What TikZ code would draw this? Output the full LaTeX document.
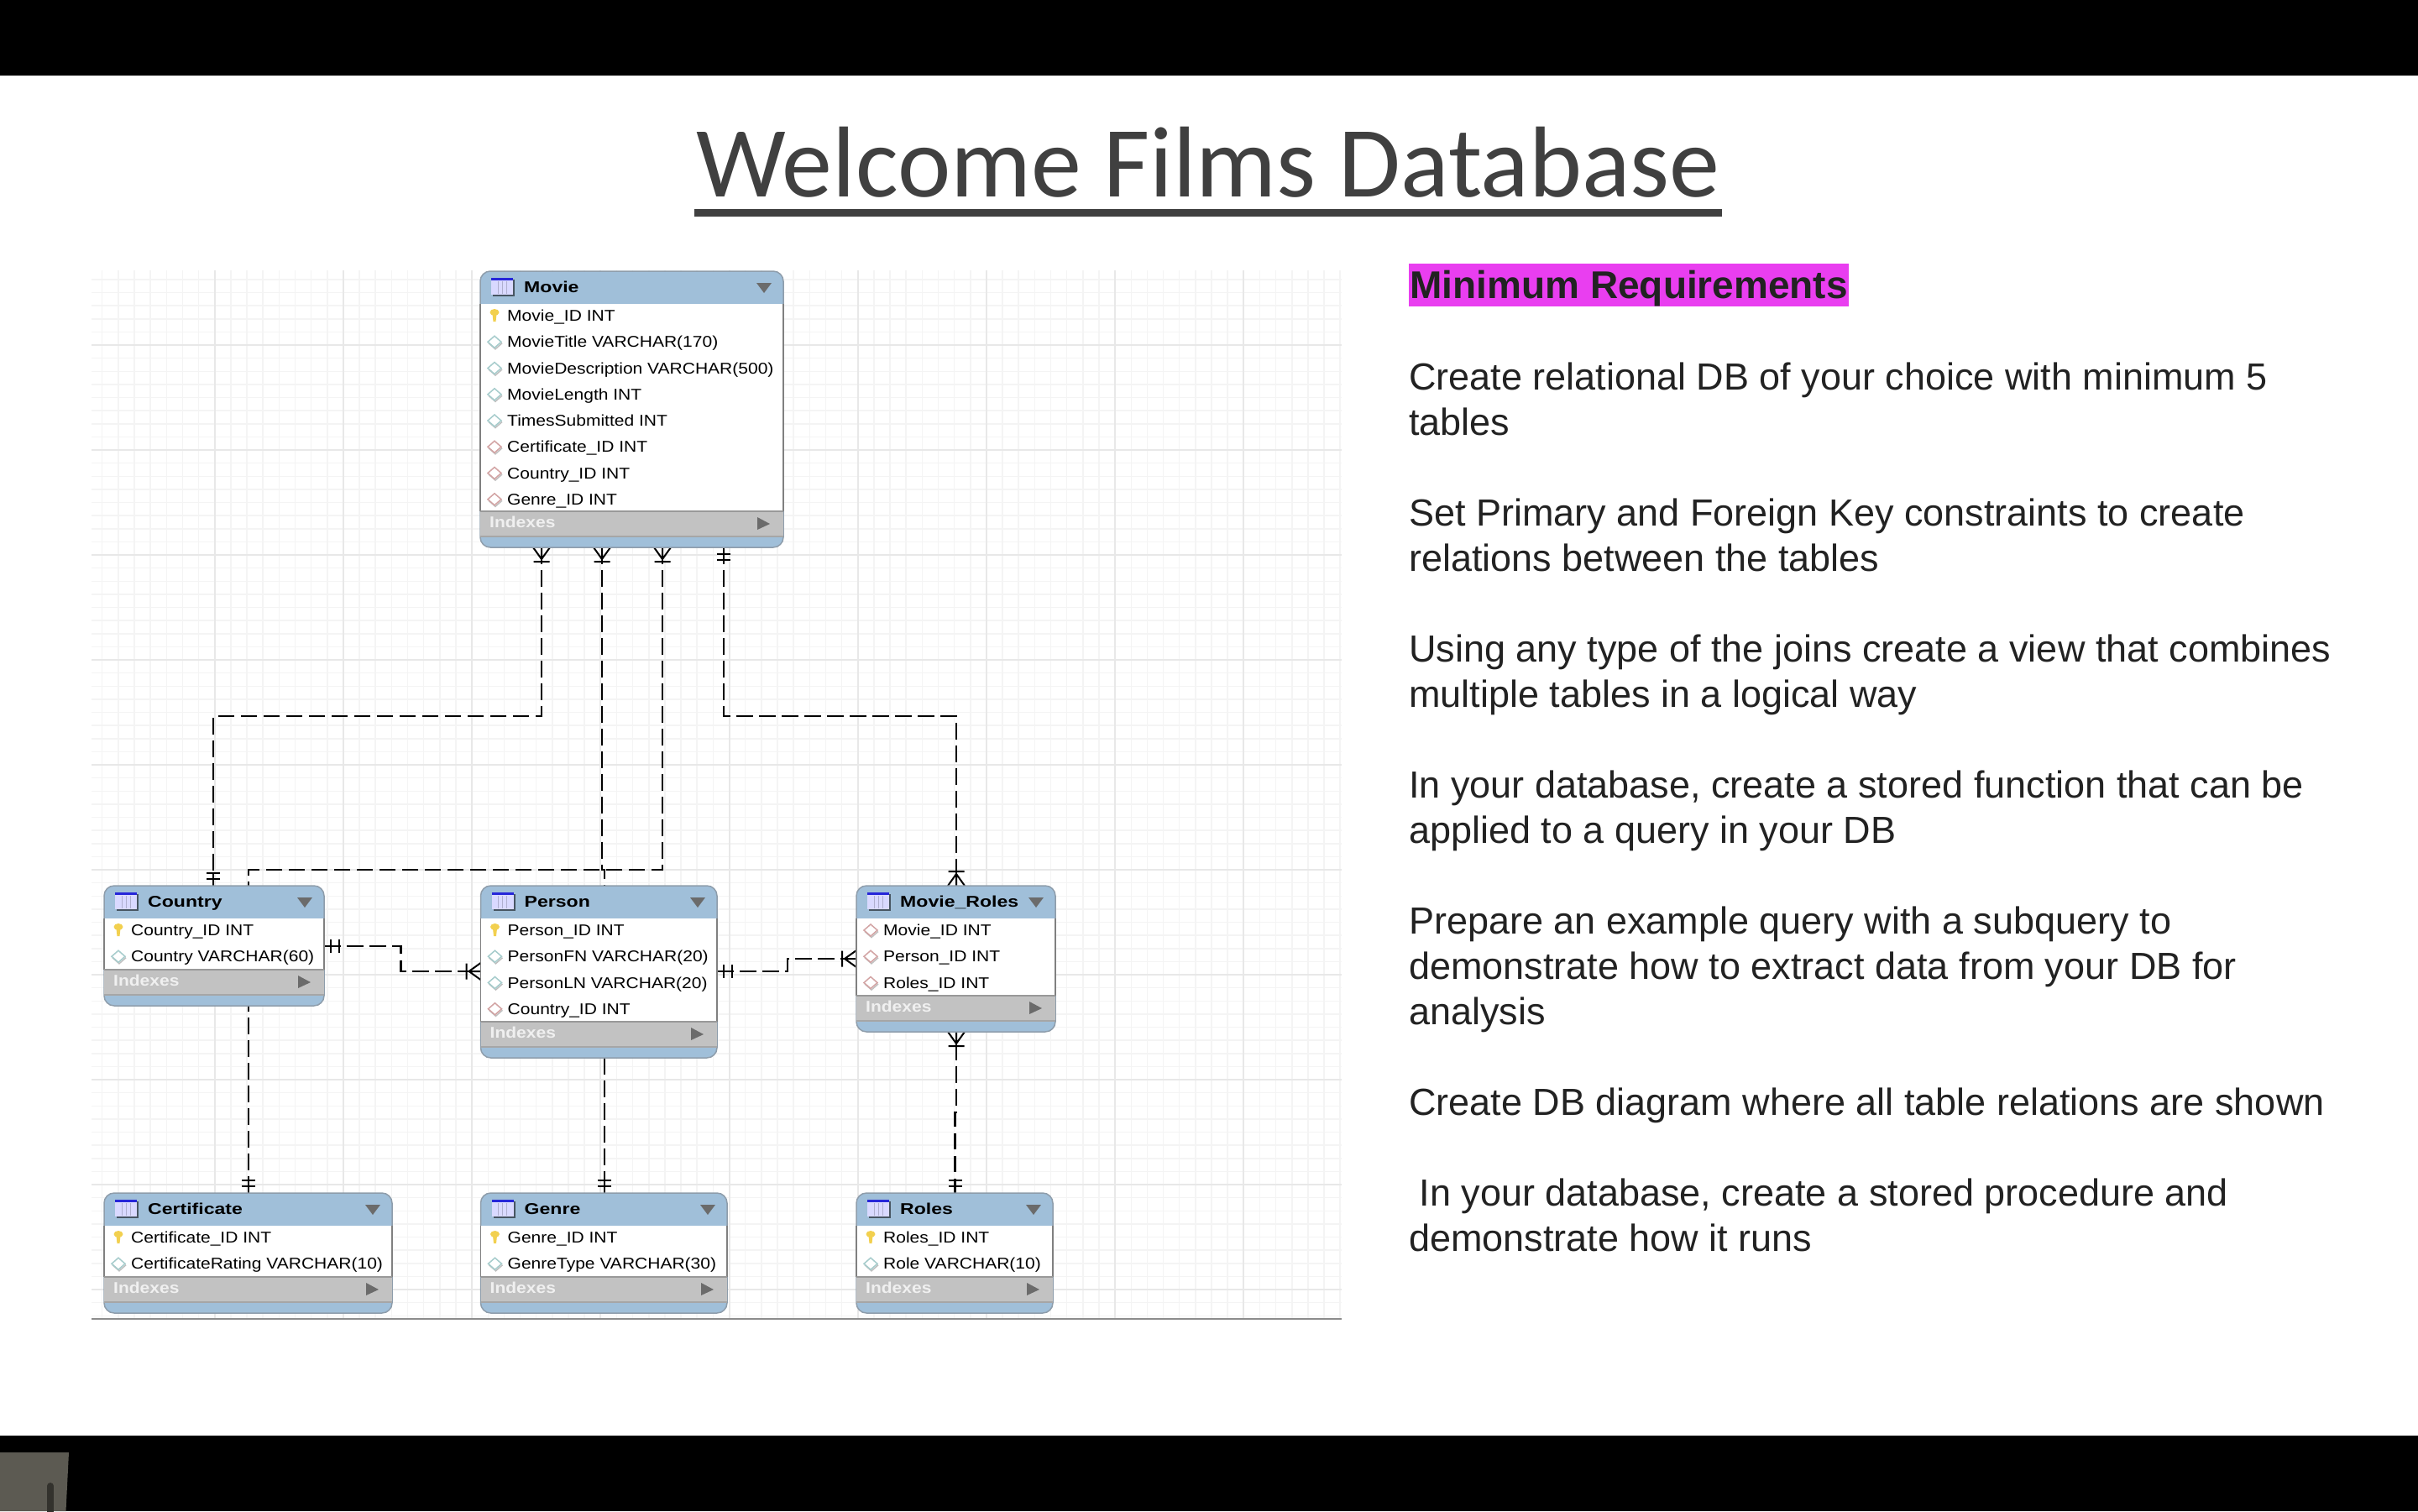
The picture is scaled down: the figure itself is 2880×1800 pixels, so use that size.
\documentclass[tikz,border=0pt]{standalone}
\usepackage{fontspec}
\usepackage{xcolor}
\setmainfont{Liberation Sans}
\newfontfamily\titlefont{Carlito}
\newfontfamily\erfont[FakeStretch=1.13]{Liberation Sans}
\newfontfamily\erheadfont[FakeStretch=1.24]{Liberation Sans}
\usetikzlibrary{positioning,calc,backgrounds}

\definecolor{erBlue}{HTML}{A0BFD9}
\definecolor{erEdge}{HTML}{8E9DAB}
\definecolor{erGray}{HTML}{C2C2C2}
\definecolor{erTri}{HTML}{6B6B6B}
\definecolor{erKey}{HTML}{F2D04F}
\definecolor{erCol}{HTML}{A6CCCC}
\definecolor{erFk}{HTML}{D2A3A3}
\definecolor{gridMinor}{HTML}{F4F4F4}
\definecolor{gridMajor}{HTML}{E8E8E8}
\definecolor{reqPink}{HTML}{E93EF0}
\definecolor{reqText}{HTML}{222222}
\definecolor{headText}{HTML}{404040}
\definecolor{padBody}{HTML}{5C5A52}
\definecolor{padSlot}{HTML}{33322D}

\tikzset{
	tablebox/.style={draw=erEdge, fill=erBlue, line width=1.5pt, rounded corners=12pt,
		inner sep=0pt, outer sep=0pt, anchor=north west},
	fieldtext/.style={anchor=base west, inner sep=0pt, font=\erfont\fontsize{18.6}{22}\selectfont},
	headtext/.style={fieldtext, font=\erheadfont\bfseries\fontsize{18.6}{22}\selectfont},
	idxtext/.style={fieldtext, font=\erfont\bfseries\fontsize{18.6}{22}\selectfont, text=white!94!black},
	fkline/.style={black, line width=2.2pt, dash pattern=on 19.5pt off 7.5pt},
	fkmark/.style={black, line width=2pt, solid},
	reqpara/.style={anchor=north west, inner sep=0pt, align=left, text=reqText,
		font=\fontsize{45}{54}\selectfont},
}

% field icons, #1 = coordinate at the middle of the icon
\newcommand{\iconpk}[1]{
	\fill[erKey, shift={(#1)}] (0,-4) ellipse (5.5 and 4);
	\fill[erKey, shift={(#1)}] (-2.5,-2) -- (2.5,-2) -- (1.5,7) -- (-1.5,7) -- cycle;
}
\newcommand{\iconcol}[1]{
	\draw[black!25, line width=1.5pt, shift={(#1)}] (-7,1.5) -- (1,8.5) -- (9,1.5);
	\draw[erCol, fill=white, line width=1.5pt, shift={(#1)}] (-8,0) -- (0,-7) -- (8,0) -- (0,7) -- cycle;
}
\newcommand{\iconfk}[1]{
	\draw[black!25, line width=1.5pt, shift={(#1)}] (-7,1.5) -- (1,8.5) -- (9,1.5);
	\draw[erFk, fill=white, line width=1.5pt, shift={(#1)}] (-8,0) -- (0,-7) -- (8,0) -- (0,7) -- cycle;
}

% one table: name, x, y, width, title, number of rows, rows
\newcommand{\dbtable}[7]{
	\pgfmathsetmacro{\bodyH}{#6*31-1}
	\pgfmathsetmacro{\boxH}{\bodyH+82}
	\node[tablebox, minimum width=#4, minimum height=\boxH] (#1) at (#2,#3) {};
	\fill[white] ($(#1.north west)+(0,39)$) rectangle ($(#1.north east)+(0,39+\bodyH)$);
	\draw[gray, line width=1.5pt] ($(#1.north west)+(0,39)$) -- ++(0,\bodyH);
	\draw[gray, line width=1.5pt] ($(#1.north east)+(0,39)$) -- ++(0,\bodyH);
	\fill[erGray] ($(#1.north west)+(0,39+\bodyH)$) rectangle ($(#1.north east)+(0,69+\bodyH)$);
	\draw[black!35, line width=1.5pt] ($(#1.north west)+(0,69+\bodyH)$) -- ($(#1.north east)+(0,69+\bodyH)$);
	\draw[black!40, line width=1.5pt] ($(#1.north west)+(0,39+\bodyH)$) -- ($(#1.north east)+(0,39+\bodyH)$);
	% table icon
	\fill[black!55!erBlue] ($(#1.north west)+(15,10)$) rectangle ($(#1.north west)+(41,30)$);
	\fill[blue!15!white] ($(#1.north west)+(13,8)$) rectangle ($(#1.north west)+(39,28)$);
	\fill[blue!70!gray] ($(#1.north west)+(13,8)$) rectangle ($(#1.north west)+(39,11)$);
	\foreach \c in {21,26,31}{
		\draw[blue!25!gray!50, line width=1pt] ($(#1.north west)+(\c,12)$) -- ++(0,15);
	}
	\node[headtext] (#1title) at ($(#1.north west)+(52,25.5)$) {#5};
	\fill[erTri] ($(#1.north east)+(-32,14)$) -- ($(#1.north east)+(-14,14)$) -- ($(#1.north east)+(-23,26)$) -- cycle;
	% fields
	\foreach \kind/\txt [count=\r] in {#7}{
		\pgfmathsetmacro{\rowY}{53+(\r-1)*31.25}
		\coordinate (#1ic\r) at ($(#1.north west)+(17,\rowY)$);
		\csname icon\kind\endcsname{#1ic\r}
		\node[fieldtext] (#1r\r) at ($(#1.north west)+(32,\rowY+6.5)$) {\txt};
	}
	% indexes band
	\node[idxtext] (#1idx) at ($(#1.north west)+(11,39+\bodyH+19)$) {Indexes};
	\fill[erTri] ($(#1.north east)+(-31,39+\bodyH+7)$) -- ($(#1.north east)+(-16,39+\bodyH+15)$) -- ($(#1.north east)+(-31,39+\bodyH+22)$) -- cycle;
}

% connector ends: point on the table edge, rotation (0 = leaves downwards)
\newcommand{\crowend}[2]{
	\draw[fkmark, shift={(#1)}, rotate=#2] (-10,0) -- (0,14) -- (10,0) (0,0) -- (0,14) (-9.5,17) -- (9.5,17);
}
\newcommand{\barsend}[3]{
	\draw[fkmark, shift={(#1)}, rotate=#2] (0,0) -- (0,#3) (-8,8) -- (8,8) (-8,#3) -- (8,#3);
}

\begin{document}
\begin{tikzpicture}[x=1pt,y=-1pt, line cap=butt, line join=miter]
	\useasboundingbox (0,0) rectangle (2880,1800);
	
	% ---- black bars of the screen
	\fill[black] (0,0) rectangle (2880,90);
	\fill[black] (0,1710) rectangle (2880,1800);
	\fill[padBody] (0,1730) -- (82,1730) -- (78.5,1800) -- (0,1800) -- cycle;
	\draw[padSlot, line width=8pt, line cap=round] (60,1770) -- (60,1804);
	
	% ---- title
	\node[anchor=south, inner sep=0pt, text=headText, font=\titlefont\fontsize{120}{130}\selectfont]
		(filmtitle) at (1439,236) {Welcome Films Database};
	\draw[headText, line width=8.7pt] ($(filmtitle.south west)+(-2,17.3)$) -- ($(filmtitle.south east)+(2,17.3)$);
	
	% ---- grid
	\begin{pgfonlayer}{background}
		\foreach \k in {-7,...,70}{
			\draw[gridMinor, line width=1.5pt] ({255.7+19.15*\k},322) -- ({255.7+19.15*\k},1571);
		}
		\foreach \k in {-69,...,10}{
			\draw[gridMinor, line width=1.5pt] (109,{1411+15.625*\k}) -- (1598,{1411+15.625*\k});
		}
		\foreach \k in {0,8,...,64}{
			\draw[gridMajor, line width=2pt] ({255.7+19.15*\k},322) -- ({255.7+19.15*\k},1571);
		}
		\foreach \k in {-64,-56,...,8}{
			\draw[gridMajor, line width=2pt] (109,{1411+15.625*\k}) -- (1598,{1411+15.625*\k});
		}
		\draw[black!45, line width=1.5pt] (109,1571) -- (1598,1571);
	\end{pgfonlayer}
	
	% ---- tables
	\dbtable{movie}{572}{323}{361}{Movie}{8}{pk/Movie\_ID INT, col/MovieTitle VARCHAR(170),
		col/MovieDescription VARCHAR(500), col/MovieLength INT, col/TimesSubmitted INT,
		fk/Certificate\_ID INT, fk/Country\_ID INT, fk/Genre\_ID INT}
	\dbtable{country}{124}{1055}{262}{Country}{2}{pk/Country\_ID INT, col/Country VARCHAR(60)}
	\dbtable{person}{572.5}{1055}{281.5}{Person}{4}{pk/Person\_ID INT, col/PersonFN VARCHAR(20),
		col/PersonLN VARCHAR(20), fk/Country\_ID INT}
	\dbtable{movieroles}{1020}{1055}{237}{Movie\_Roles}{3}{fk/Movie\_ID INT, fk/Person\_ID INT, fk/Roles\_ID INT}
	\dbtable{certificate}{124}{1421}{343}{Certificate}{2}{pk/Certificate\_ID INT, col/CertificateRating VARCHAR(10)}
	\dbtable{genre}{572.5}{1421}{293.5}{Genre}{2}{pk/Genre\_ID INT, col/GenreType VARCHAR(30)}
	\dbtable{roles}{1020}{1421}{234}{Roles}{2}{pk/Roles\_ID INT, col/Role VARCHAR(10)}
	
	% ---- connector anchors
	\coordinate (mvA) at ($(movie.south west)+(73,0)$);
	\coordinate (mvB) at ($(movie.south west)+(145,0)$);
	\coordinate (mvC) at ($(movie.south west)+(217,0)$);
	\coordinate (mvD) at ($(movie.south west)+(290,0)$);
	\coordinate (coTop) at ($(country.north west)+(130,0)$);
	\coordinate (coR) at ($(country.north east)+(0,72)$);
	\coordinate (peTop) at ($(person.north west)+(147.5,0)$);
	\coordinate (peBot) at ($(person.south west)+(147.5,0)$);
	\coordinate (peL) at ($(person.north west)+(0,102)$);
	\coordinate (peR) at ($(person.north east)+(0,102)$);
	\coordinate (mrTop) at ($(movieroles.north west)+(119,0)$);
	\coordinate (mrBot) at ($(movieroles.south west)+(119,0)$);
	\coordinate (mrL) at ($(movieroles.north west)+(0,87)$);
	\coordinate (ceTop) at ($(certificate.north west)+(172,0)$);
	\coordinate (geTop) at ($(genre.north west)+(147.5,0)$);
	\coordinate (roTop) at ($(roles.north west)+(117.5,0)$);
	
	% ---- connectors (under the tables)
	\begin{pgfonlayer}{background}
		\draw[fkline] (mvA) -- ++(0,201) -| (coTop);
		\draw[fkline] (mvB) -- ++(0,384) -| (peTop);
		\draw[fkline] (mvC) -- ++(0,384) -| (ceTop);
		\draw[fkline] (mvD) -- ++(0,201) -| (mrTop);
		\draw[fkline] (coR) -- ++(91.5,0) |- (peL);
		\draw[fkline] (peR) -- ++(84,0) |- (mrL);
		\draw[fkline] (peBot) -- (geTop);
		\draw[fkline, dash phase=13pt] (mrBot) -- ++(0,96) -| (roTop);
		
		\crowend{mvA}{0}
		\crowend{mvB}{0}
		\crowend{mvC}{0}
		\barsend{mvD}{0}{15}
		\barsend{coTop}{180}{15}
		\barsend{ceTop}{180}{15}
		\barsend{geTop}{180}{15}
		\barsend{roTop}{180}{15}
		\crowend{mrTop}{180}
		\crowend{mrBot}{0}
		\crowend{peL}{-90}
		\crowend{mrL}{-90}
		\barsend{coR}{90}{18}
		\barsend{peR}{90}{18}
	\end{pgfonlayer}
	
	% ---- requirements
	\node[anchor=west, inner sep=0pt, fill=reqPink, minimum width=524, text height=41, text depth=10,
		text=reqText, font=\bfseries\fontsize{46}{54}\selectfont] (reqhead) at (1678,339.5) {Minimum Requirements};
	\node[reqpara] (reqA) at (1678,432) {Create relational DB of your choice with minimum 5\\tables};
	\node[reqpara] (reqB) at (1678,594) {Set Primary and Foreign Key constraints to create\\relations between the tables};
	\node[reqpara] (reqC) at (1678,756) {Using any type of the joins create a view that combines\\multiple tables in a logical way};
	\node[reqpara] (reqD) at (1678,918) {In your database, create a stored function that can be\\applied to a query in your DB};
	\node[reqpara] (reqE) at (1678,1080) {Prepare an example query with a subquery to\\demonstrate how to extract data from your DB for\\analysis};
	\node[reqpara] (reqF) at (1678,1296) {Create DB diagram where all table relations are shown};
	\node[reqpara] (reqG) at (1678,1404) {\ In your database, create a stored procedure and\\demonstrate how it runs};
\end{tikzpicture}
\end{document}
